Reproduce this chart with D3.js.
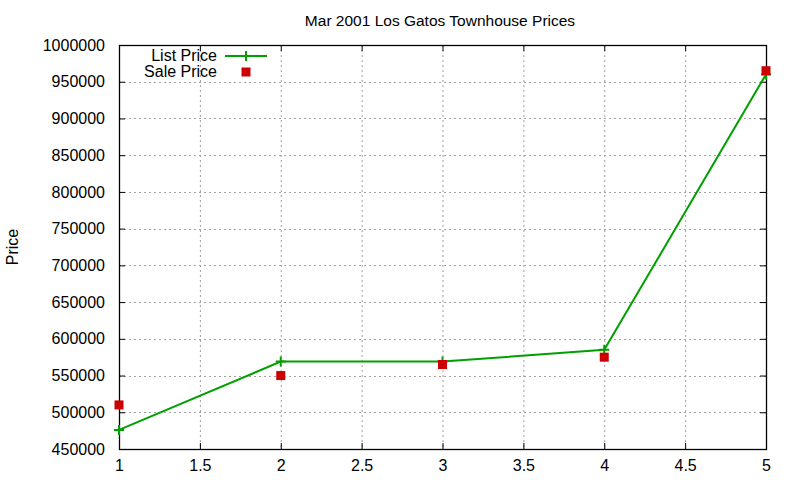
<!DOCTYPE html>
<html>
<head>
<meta charset="utf-8">
<script src="https://cdn.jsdelivr.net/npm/d3@7"></script>
<style>
  body { margin: 0; background: #fff; }
  text { font-family: "Liberation Sans", Arial, sans-serif; fill: #000; }
</style>
</head>
<body>
<div id="chart"></div>
<script>

// data
var xValues = [1, 2, 3, 4, 5];
var listPrice = [476000, 569000, 569000, 585000, 960000];
var salePrice = [510000, 550000, 565000, 575000, 965000];
var xTicks = [1, 1.5, 2, 2.5, 3, 3.5, 4, 4.5, 5];
var yTicks = [450000, 500000, 550000, 600000, 650000, 700000, 750000, 800000, 850000, 900000, 950000, 1000000];

var W = 800, H = 480;
var margin = {top: 45, right: 34, bottom: 31, left: 119},
    width = W - margin.left - margin.right,
    height = H - margin.top - margin.bottom;

var svg = d3.select("#chart")
  .append("svg")
    .attr("width", W)
    .attr("height", H);

var g = svg.append("g")
    .attr("transform", "translate(" + margin.left + "," + margin.top + ")");

var x = d3.scaleLinear().domain([1, 5]).range([0, width]);
var y = d3.scaleLinear().domain([450000, 1000000]).range([height, 0]);

// grid
g.append("g").selectAll("line")
  .data(xTicks.slice(1, -1))
  .enter().append("line")
    .attr("x1", function(d) { return x(d) + 0.5; })
    .attr("x2", function(d) { return x(d) + 0.5; })
    .attr("y1", 0).attr("y2", height)
    .attr("stroke", "#a0a0a0").attr("stroke-dasharray", "2,3");
g.append("g").selectAll("line")
  .data(yTicks.slice(1, -1))
  .enter().append("line")
    .attr("y1", function(d) { return Math.round(y(d)) + 0.5; })
    .attr("y2", function(d) { return Math.round(y(d)) + 0.5; })
    .attr("x1", 0).attr("x2", width)
    .attr("stroke", "#a0a0a0").attr("stroke-dasharray", "2,3");

// axes: ticks point inward, mirrored on the opposite side
function styleAxis(sel) {
  sel.select(".domain").remove();
  sel.selectAll("line").attr("stroke", "#000");
  sel.selectAll("text").style("font-size", "16px").style("font-family", "'Liberation Sans', Arial, sans-serif");
}

g.append("g")
  .attr("transform", "translate(0," + height + ")")
  .call(d3.axisBottom(x).tickValues(xTicks).tickSizeInner(-6).tickPadding(11).tickFormat(d3.format("")))
  .call(styleAxis);
g.append("g")
  .call(d3.axisTop(x).tickValues(xTicks).tickSizeInner(-6).tickFormat(""))
  .call(styleAxis);
g.append("g")
  .call(d3.axisLeft(y).tickValues(yTicks).tickSizeInner(-6).tickPadding(14).tickFormat(d3.format("d")))
  .call(styleAxis);
g.append("g")
  .attr("transform", "translate(" + width + ",0)")
  .call(d3.axisRight(y).tickValues(yTicks).tickSizeInner(-6).tickFormat(""))
  .call(styleAxis);

// frame
g.append("rect")
  .attr("x", 0.5).attr("y", 0.5)
  .attr("width", width).attr("height", height)
  .attr("fill", "none").attr("stroke", "#000").attr("stroke-width", 1.3);

var listData = xValues.map(function(d, i) { return {x: d, y: listPrice[i]}; });
var saleData = xValues.map(function(d, i) { return {x: d, y: salePrice[i]}; });

var green = "#00a000", red = "#cc0000";

// list price line
g.append("path")
  .datum(listData)
  .attr("fill", "none")
  .attr("stroke", green)
  .attr("stroke-width", 2)
  .attr("d", d3.line()
    .x(function(d) { return x(d.x); })
    .y(function(d) { return y(d.y); }));

// + markers
function drawPlus(sel, px, py) {
  sel.append("path")
    .attr("d", "M" + (px - 5) + "," + py + "H" + (px + 5) + "M" + px + "," + (py - 5) + "V" + (py + 5))
    .attr("stroke", green).attr("stroke-width", 2).attr("fill", "none");
}
listData.forEach(function(d) { drawPlus(g, x(d.x), y(d.y)); });

// sale price squares
g.selectAll(".sale")
  .data(saleData)
  .enter().append("rect")
    .attr("class", "sale")
    .attr("x", function(d) { return x(d.x) - 4.5; })
    .attr("y", function(d) { return y(d.y) - 4.5; })
    .attr("width", 9).attr("height", 9)
    .attr("fill", red);

// legend
var lg = svg.append("g");
lg.append("text").attr("x", 217).attr("y", 61).attr("text-anchor", "end")
  .style("font-size", "16px").text("List Price");
lg.append("line").attr("x1", 225).attr("x2", 267).attr("y1", 56).attr("y2", 56)
  .attr("stroke", green).attr("stroke-width", 2);
drawPlus(lg, 246, 56);
lg.append("text").attr("x", 217).attr("y", 77).attr("text-anchor", "end")
  .style("font-size", "16px").text("Sale Price");
lg.append("rect").attr("x", 241.5).attr("y", 67.5).attr("width", 9).attr("height", 9).attr("fill", red);

// title and y label
svg.append("text").attr("x", 440).attr("y", 26).attr("text-anchor", "middle")
  .style("font-size", "15.5px").text("Mar 2001 Los Gatos Townhouse Prices");
svg.append("text")
  .attr("transform", "translate(18,247) rotate(-90)")
  .attr("text-anchor", "middle")
  .style("font-size", "16px").text("Price");

</script>
</body>
</html>
